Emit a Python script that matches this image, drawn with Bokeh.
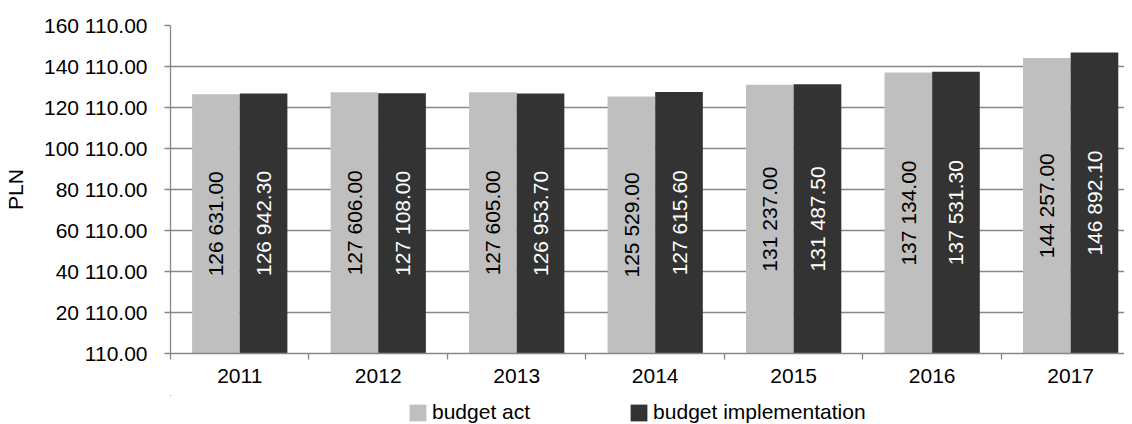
import math
from bokeh.plotting import figure
from bokeh.layouts import column
from bokeh.models import (Range1d, FixedTicker, ColumnDataSource, Legend, LegendItem)
from bokeh.core.properties import value
from bokeh.embed import file_html
from bokeh.resources import INLINE

years = ["2011", "2012", "2013", "2014", "2015", "2016", "2017"]
budget_act = [126631.00, 127606.00, 127605.00, 125529.00, 131237.00, 137134.00, 144257.00]
budget_impl = [126942.30, 127108.00, 126953.70, 127615.60, 131487.50, 137531.30, 146892.10]
y_ticks = [110, 20110, 40110, 60110, 80110, 100110, 120110, 140110, 160110]
y_tick_labels = ["110.00", "20 110.00", "40 110.00", "60 110.00", "80 110.00",
                 "100 110.00", "120 110.00", "140 110.00", "160 110.00"]
series_names = ["budget act", "budget implementation"]

LIGHT = "#BFBFBF"
DARK = "#333333"
GRID = "#878787"
FONT = "Liberation Sans"
FS = "21px"
BASE = 110

def fmt(v):
    return f"{v:,.2f}".replace(",", " ")

idx = list(range(len(years)))
act_x = [i + 0.328 for i in idx]
impl_x = [i + 0.672 for i in idx]

src_act = ColumnDataSource(dict(x=act_x, top=budget_act,
                                mid=[(BASE + v) / 2 for v in budget_act],
                                lab=[fmt(v) for v in budget_act]))
src_impl = ColumnDataSource(dict(x=impl_x, top=budget_impl,
                                 mid=[(BASE + v) / 2 for v in budget_impl],
                                 lab=[fmt(v) for v in budget_impl]))

p = figure(width=1124, height=395, output_backend="svg", toolbar_location=None,
           x_range=Range1d(0, 961 / 139.5), y_range=Range1d(BASE, 160110),
           min_border_left=163, min_border_right=0, min_border_top=25, min_border_bottom=42)
p.outline_line_color = None
p.background_fill_color = "white"
p.border_fill_color = "white"

r1 = p.vbar(x="x", top="top", bottom=BASE, width=0.344, source=src_act,
            fill_color=LIGHT, line_color=None)
r2 = p.vbar(x="x", top="top", bottom=BASE, width=0.344, source=src_impl,
            fill_color=DARK, line_color=None)

p.text(x="x", y="mid", text="lab", source=src_act, angle=math.pi / 2,
       text_align="center", text_baseline="middle", text_color="black",
       text_font=value(FONT), text_font_size=FS)
p.text(x="x", y="mid", text="lab", source=src_impl, angle=math.pi / 2,
       text_align="center", text_baseline="middle", text_color="white",
       text_font=value(FONT), text_font_size=FS)

# x axis
p.xaxis.ticker = FixedTicker(ticks=[i + 0.5 for i in idx], minor_ticks=list(range(len(years) + 1)))
p.xaxis.major_label_overrides = {i + 0.5: y for i, y in zip(idx, years)}
p.xaxis.major_tick_line_color = None
p.xaxis.major_tick_out = 0
p.xaxis.major_tick_in = 0
p.xaxis.minor_tick_out = 6
p.xaxis.minor_tick_in = 0
p.xaxis.minor_tick_line_color = GRID
p.xaxis.minor_tick_line_width = 1.3
p.xaxis.axis_line_color = GRID
p.xaxis.axis_line_width = 1.3
p.xaxis.major_label_standoff = 9
p.xaxis.major_label_text_font = FONT
p.xaxis.major_label_text_font_size = FS
p.xaxis.major_label_text_color = "black"
p.xgrid.grid_line_color = None

# y axis
p.yaxis.ticker = FixedTicker(ticks=y_ticks)
p.yaxis.major_label_overrides = {t: l for t, l in zip(y_ticks, y_tick_labels)}
p.yaxis.minor_tick_line_color = None
p.yaxis.major_tick_out = 6
p.yaxis.major_tick_in = 0
p.yaxis.major_tick_line_color = GRID
p.yaxis.major_tick_line_width = 1.3
p.yaxis.axis_line_color = GRID
p.yaxis.axis_line_width = 1.3
p.yaxis.major_label_standoff = 17
p.yaxis.major_label_text_font = FONT
p.yaxis.major_label_text_font_size = FS
p.yaxis.major_label_text_color = "black"
p.yaxis.axis_label = "PLN"
p.yaxis.axis_label_text_font = FONT
p.yaxis.axis_label_text_font_size = FS
p.yaxis.axis_label_text_font_style = "normal"
p.yaxis.axis_label_text_color = "black"
p.yaxis.axis_label_standoff = 14
p.ygrid.grid_line_color = GRID
p.ygrid.grid_line_width = 1.3

# legend strip under the chart (its ranges hold none of the bars, so only the legend shows)
p2 = figure(width=1124, height=29, output_backend="svg", toolbar_location=None,
            x_range=Range1d(100, 101), y_range=Range1d(0, 1),
            min_border_left=0, min_border_right=0, min_border_top=0, min_border_bottom=0)
p2.axis.visible = False
p2.grid.visible = False
p2.outline_line_color = None
p2.border_fill_color = "white"
p2.background_fill_color = "white"
l1 = p2.vbar(x="x", top="top", bottom=BASE, width=0.344, source=src_act,
             fill_color=LIGHT, line_color=None)
l2 = p2.vbar(x="x", top="top", bottom=BASE, width=0.344, source=src_impl,
             fill_color=DARK, line_color=None)
legend = Legend(items=[LegendItem(label=series_names[0], renderers=[l1]),
                       LegendItem(label=series_names[1], renderers=[l2])],
                orientation="horizontal", location=(237, 0),
                glyph_width=21, glyph_height=21, label_standoff=4, spacing=98,
                padding=0, margin=0, border_line_color=None,
                label_text_font=FONT, label_text_font_size=FS, label_height=21,
                label_text_color="black", background_fill_alpha=0)
p2.add_layout(legend, "center")

layout = column(p, p2, spacing=0)
open("out.html", "w").write(file_html(layout, INLINE))
